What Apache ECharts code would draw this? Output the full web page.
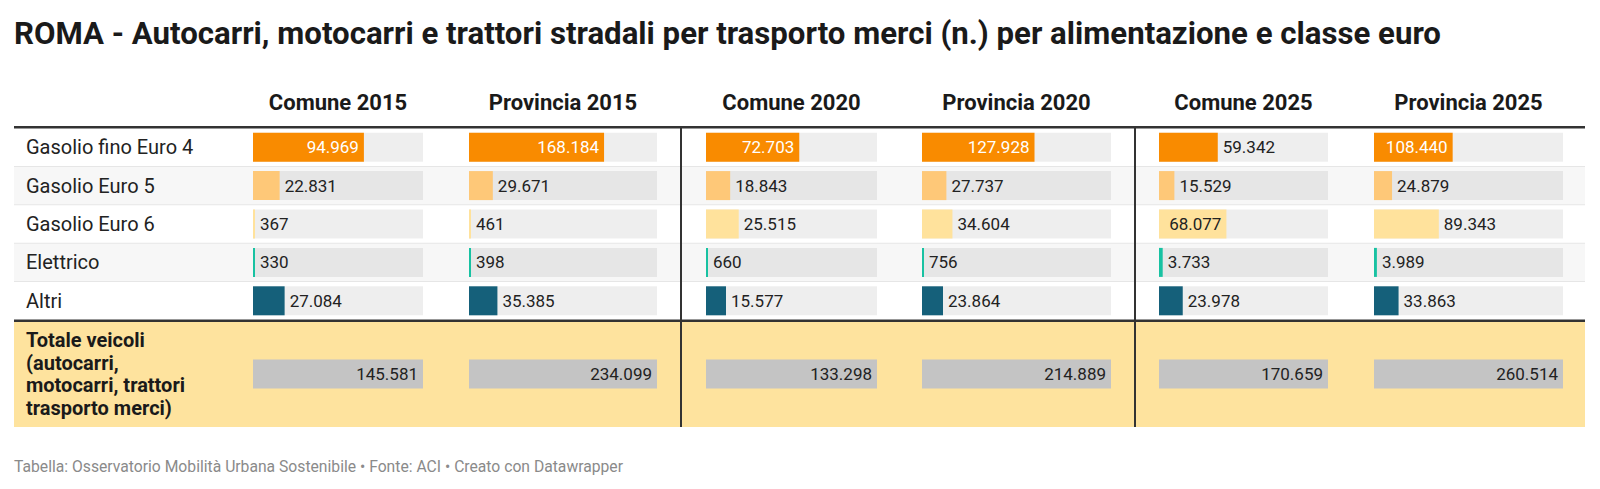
<!DOCTYPE html>
<html>
<head>
<meta charset="utf-8">
<script src="https://cdn.jsdelivr.net/npm/echarts@6/dist/echarts.min.js"></script>
<style>
html,body{margin:0;padding:0;background:#fff;}
#chart{width:1600px;height:489px;}
</style>
</head>
<body>
<div id="chart"></div>
<script>
// ---------- DATA ----------
const categories = ['Gasolio fino Euro 4', 'Gasolio Euro 5', 'Gasolio Euro 6', 'Elettrico', 'Altri'];
const columns = ['Comune 2015', 'Provincia 2015', 'Comune 2020', 'Provincia 2020', 'Comune 2025', 'Provincia 2025'];
const comune2015 = [94969, 22831, 367, 330, 27084];
const provincia2015 = [168184, 29671, 461, 398, 35385];
const comune2020 = [72703, 18843, 25515, 660, 15577];
const provincia2020 = [127928, 27737, 34604, 756, 23864];
const comune2025 = [59342, 15529, 68077, 3733, 23978];
const provincia2025 = [108440, 24879, 89343, 3989, 33863];
const totals = [145581, 234099, 133298, 214889, 170659, 260514];
const totalLabel = 'Totale veicoli\n(autocarri,\nmotocarri, trattori\ntrasporto merci)';
const titleText = 'ROMA - Autocarri, motocarri e trattori stradali per trasporto merci (n.) per alimentazione e classe euro';
const footerText = 'Tabella: Osservatorio Mobilità Urbana Sostenibile • Fonte: ACI • Creato con Datawrapper';

// ---------- STYLE / LAYOUT ----------
const seriesValues = [comune2015, provincia2015, comune2020, provincia2020, comune2025, provincia2025];
const barColors = ['#f98b00', '#fec878', '#ffe29c', '#18c2a2', '#15607a'];
const insideLabelColors = ['#ffffff', '#222222', '#222222', '#222222', '#ffffff'];
const colLeft = [253, 469, 706, 922, 1159, 1374];
const colWidth = [170, 188, 171, 189, 169, 189];
const tableLeft = 14, tableRight = 1585;
const headTop = 128, rowH = 38.4, nRows = 5;
const totTop = 321, totBottom = 427;
const sepX = [681, 1135];
const FONT = 'Roboto';

function fmt(v) {
  return String(v).replace(/\B(?=(\d{3})+(?!\d))/g, '.');
}
const mctx = document.createElement('canvas').getContext('2d');
mctx.font = '17px ' + FONT;
function textW(s) { return mctx.measureText(s).width; }

const grids = [], xAxes = [], yAxes = [], series = [];
const bodyBottom = headTop + rowH * nRows;

columns.forEach((col, c) => {
  grids.push({ left: colLeft[c], width: colWidth[c], top: headTop, height: rowH * nRows });
  xAxes.push({
    gridIndex: grids.length - 1, type: 'value', min: 0, max: totals[c],
    show: false
  });
  yAxes.push({
    gridIndex: grids.length - 1, type: 'category', data: categories, inverse: true,
    axisLine: { show: false }, axisTick: { show: false }, splitLine: { show: false },
    axisLabel: c === 0 ? {
      show: true, align: 'left', margin: colLeft[0] - 26,
      fontFamily: FONT, fontSize: 20, color: '#222'
    } : { show: false }
  });
  const gi = grids.length - 1;
  series.push({
    type: 'bar', xAxisIndex: gi, yAxisIndex: gi, barWidth: 29, barMinHeight: 2,
    showBackground: true, backgroundStyle: { color: 'rgba(0,0,0,0.067)' },
    animation: false, silent: true,
    data: seriesValues[c].map((v, i) => {
      const bw = v / totals[c] * colWidth[c];
      const txt = fmt(v);
      const inside = bw >= textW(txt) + 15;
      return {
        value: v,
        itemStyle: { color: barColors[i] },
        label: {
          show: true,
          position: inside ? 'insideRight' : 'right',
          distance: 5,
          color: inside ? insideLabelColors[i] : '#222',
          fontFamily: FONT, fontSize: 17,
          formatter: () => txt
        }
      };
    })
  });

  grids.push({ left: colLeft[c], width: colWidth[c], top: totTop, height: totBottom - totTop });
  xAxes.push({
    gridIndex: grids.length - 1, type: 'value', min: 0, max: totals[c], show: false
  });
  yAxes.push({
    gridIndex: grids.length - 1, type: 'category', data: [totalLabel],
    axisLine: { show: false }, axisTick: { show: false }, splitLine: { show: false },
    axisLabel: c === 0 ? {
      show: true, align: 'left', margin: colLeft[0] - 26,
      fontFamily: FONT, fontSize: 20, fontWeight: 'bold', color: '#1a1a1a', lineHeight: 22.5,
      padding: [4, 0, 0, 0]
    } : { show: false }
  });
  const tg = grids.length - 1;
  series.push({
    type: 'bar', xAxisIndex: tg, yAxisIndex: tg, barWidth: 29,
    animation: false, silent: true,
    itemStyle: { color: '#c4c4c4' },
    label: {
      show: true, position: 'insideRight', distance: 5, color: '#222',
      fontFamily: FONT, fontSize: 17, formatter: (p) => fmt(p.value)
    },
    data: [totals[c]]
  });
});

// ---------- decorations ----------
const graphic = [];
for (let r = 0; r < nRows; r++) {
  if (r % 2 === 1) {
    graphic.push({ type: 'rect', z: -10, silent: true,
      shape: { x: tableLeft, y: headTop + r * rowH, width: tableRight - tableLeft, height: rowH },
      style: { fill: '#f7f7f7' } });
  }
  if (r > 0) {
    graphic.push({ type: 'rect', z: -5, silent: true,
      shape: { x: tableLeft, y: headTop + r * rowH - 0.5, width: tableRight - tableLeft, height: 1 },
      style: { fill: '#e6e6e6' } });
  }
}
graphic.push({ type: 'rect', z: -10, silent: true,
  shape: { x: tableLeft, y: totTop, width: tableRight - tableLeft, height: totBottom - totTop },
  style: { fill: '#fee39e' } });
graphic.push({ type: 'rect', z: 50, silent: true,
  shape: { x: tableLeft, y: headTop - 2, width: tableRight - tableLeft, height: 2.5 },
  style: { fill: '#333' } });
graphic.push({ type: 'rect', z: 50, silent: true,
  shape: { x: tableLeft, y: bodyBottom - 0.5, width: tableRight - tableLeft, height: 2.5 },
  style: { fill: '#333' } });
sepX.forEach(x => graphic.push({ type: 'rect', z: 50, silent: true,
  shape: { x: x - 1, y: headTop - 1, width: 2, height: totBottom - headTop + 1 },
  style: { fill: '#333' } }));
columns.forEach((col, c) => graphic.push({ type: 'text', z: 50, silent: true,
  x: colLeft[c] + colWidth[c] / 2, y: 102,
  style: { text: col, fill: '#1a1a1a', font: 'bold 22px ' + FONT, textAlign: 'center', textVerticalAlign: 'middle' } }));

const chart = echarts.init(document.getElementById('chart'), null, { renderer: 'svg', width: 1600, height: 489 });
chart.setOption({
  backgroundColor: '#ffffff',
  animation: false,
  title: [
    { text: titleText, left: 14, top: 18, padding: 0,
      textStyle: { fontFamily: FONT, fontSize: 31.2, fontWeight: 'bold', color: '#1a1a1a' } },
    { text: footerText, left: 14, top: 458, padding: 0,
      textStyle: { fontFamily: FONT, fontSize: 15.7, fontWeight: 'normal', color: '#8a8a8a' } }
  ],
  grid: grids,
  xAxis: xAxes,
  yAxis: yAxes,
  series: series,
  graphic: graphic
});
</script>
</body>
</html>
